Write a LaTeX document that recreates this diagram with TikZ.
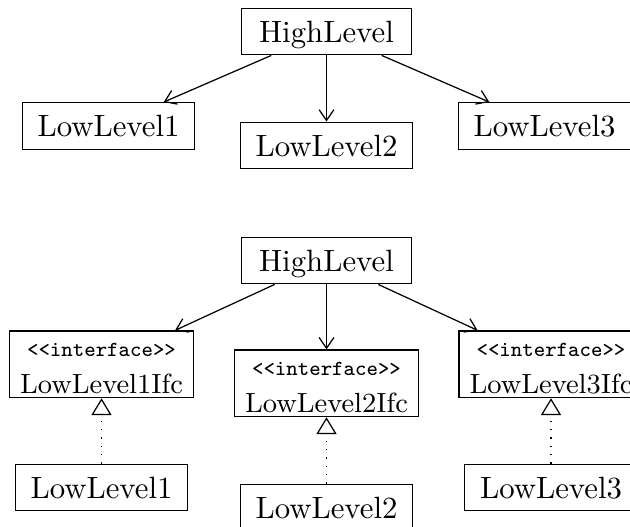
\documentclass[tikz,border=0pt]{standalone}
\usetikzlibrary{arrows.meta}

% width and height of an interface box
\def\ifcw{59.7pt}
\def\ifch{21.65pt}
% two-line content of an interface box: stereotype on top, name below
\newcommand\ifclines[1]{%
  \vbox to \ifch{\offinterlineskip
    \hbox to \ifcw{\vrule height 8.35pt depth 0pt width 0pt\hss
      \smash{\scriptsize\ttfamily <{}<interface>{}>}\hss}%
    \hbox to \ifcw{\vrule height 11.95pt depth 0pt width 0pt\hss
      \smash{\small #1}\hss}%
    \vss}}

\begin{document}
\begin{tikzpicture}[x=0.3247pt,y=-0.3247pt,
  box/.style={draw, rectangle, inner sep=0pt, minimum width=56pt,
    minimum height=15.15pt, text height=7pt, text depth=0pt},
  topbox/.style={box, minimum width=55.2pt},
  ifcbox/.style={draw, rectangle, inner sep=0pt},
  uses/.style={-{Straight Barb[length=3.5pt,width=4.8pt]}},
  realizes/.style={-{Triangle[open,length=5.45pt,width=6.5pt]},
    dash pattern=on 0.4pt off 2.3pt}]

\clip (0,0) rectangle (630,527);

% direct dependency
\node[topbox] (hA) at (326.5,31.5) {HighLevel};
\node[box] (a1) at (108.5,126) {LowLevel1};
\node[box] (a2) at (326.5,145.5) {LowLevel2};
\node[box] (a3) at (544.5,126) {LowLevel3};
\draw[uses] (hA) -- (a1);
\draw[uses] (hA) -- (a2);
\draw[uses] (hA) -- (a3);

% dependency through interfaces
\node[topbox] (hB) at (326.5,260.5) {HighLevel};
\node[ifcbox] (i1) at (101.5,364.3) {\ifclines{LowLevel1Ifc}};
\node[ifcbox] (i2) at (326.5,383.3) {\ifclines{LowLevel2Ifc}};
\node[ifcbox] (i3) at (551,364.3) {\ifclines{LowLevel3Ifc}};
\node[box] (b1) at (101.5,487.5) {LowLevel1};
\node[box] (b2) at (326.5,507.5) {LowLevel2};
\node[box] (b3) at (551,487.5) {LowLevel3};
\draw[uses] (hB) -- (i1);
\draw[uses] (hB) -- (i2);
\draw[uses] (hB) -- (i3);
\draw[realizes] (b1) -- (i1);
\draw[realizes] (b2) -- (i2);
\draw[realizes] (b3) -- (i3);
\end{tikzpicture}
\end{document}
